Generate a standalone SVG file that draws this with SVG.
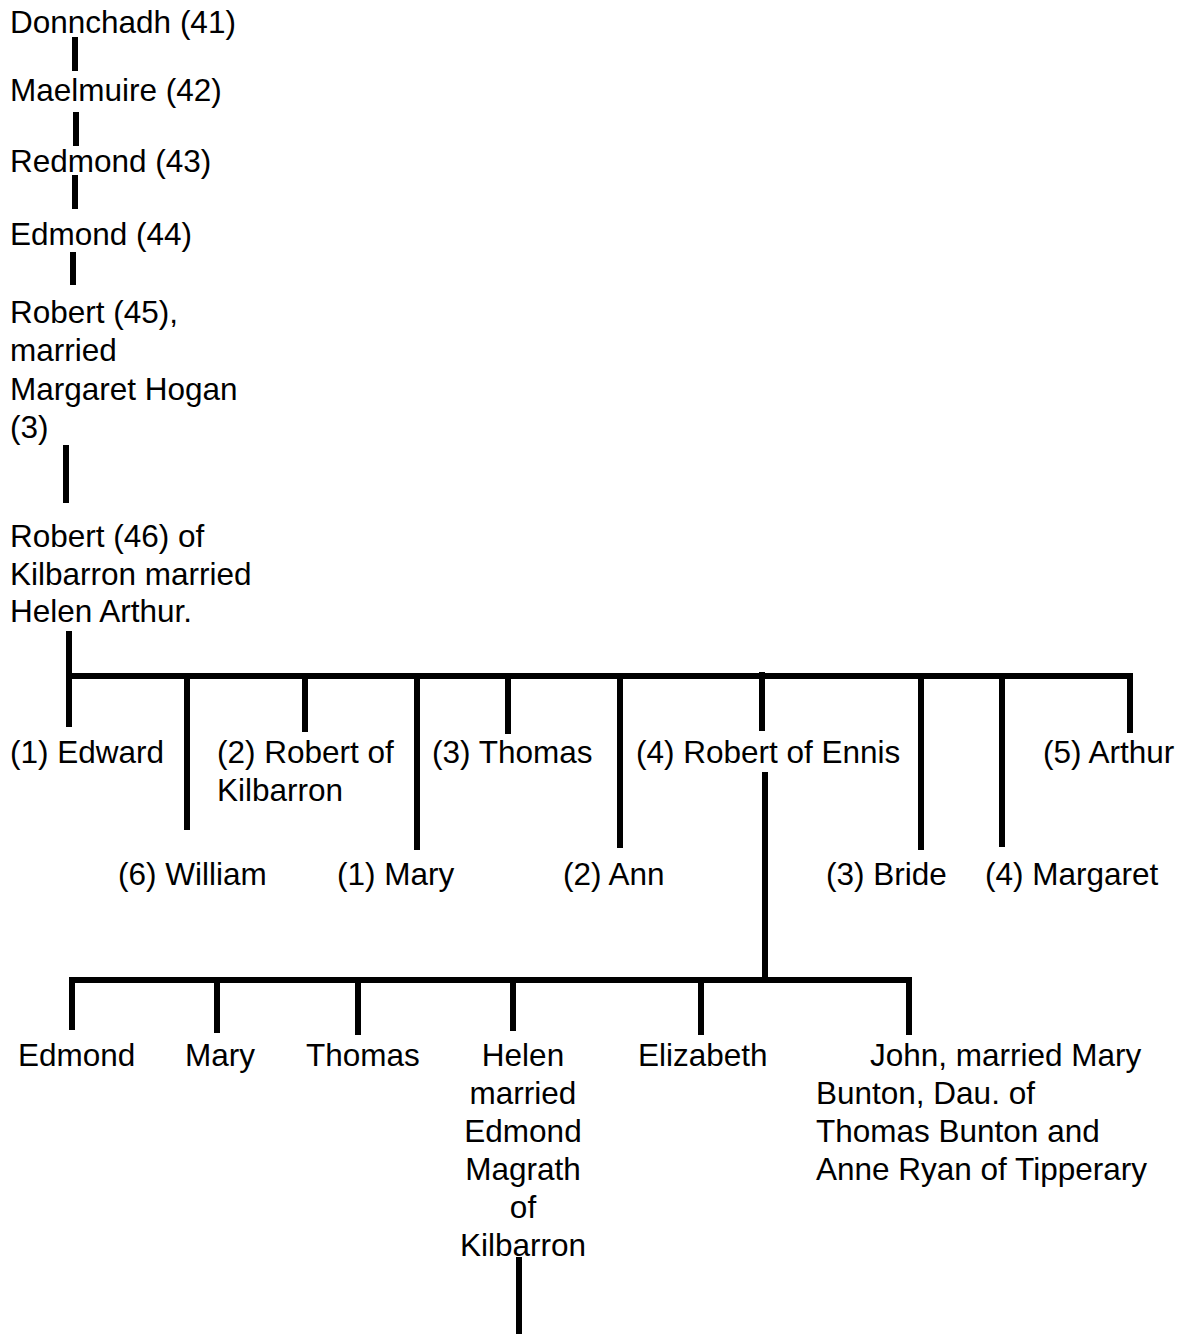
<svg xmlns="http://www.w3.org/2000/svg" width="1188" height="1334" viewBox="0 0 1188 1334">
<style>
text{font-family:"Liberation Sans",Arial,sans-serif;font-size:31.5px;fill:#000}
.c{text-anchor:middle}
#connectors line{stroke:#000;stroke-width:6;stroke-linecap:butt}
</style>
<rect width="1188" height="1334" fill="#fff"/>
<g id="connectors">
<line x1="75" y1="37" x2="75" y2="71"/>
<line x1="76" y1="112" x2="76" y2="146"/>
<line x1="75" y1="175" x2="75" y2="209"/>
<line x1="73" y1="252" x2="73" y2="285"/>
<line x1="66" y1="445" x2="66" y2="503"/>
<line x1="69" y1="631" x2="69" y2="727"/>
<line x1="66" y1="676" x2="1133" y2="676"/>
<line x1="187" y1="676" x2="187" y2="830"/>
<line x1="305" y1="676" x2="305" y2="732"/>
<line x1="417" y1="676" x2="417" y2="850"/>
<line x1="508" y1="676" x2="508" y2="734"/>
<line x1="620" y1="676" x2="620" y2="848"/>
<line x1="762" y1="672" x2="762" y2="731"/>
<line x1="921" y1="676" x2="921" y2="850"/>
<line x1="1002" y1="676" x2="1002" y2="847"/>
<line x1="1130" y1="676" x2="1130" y2="733"/>
<line x1="765" y1="772" x2="765" y2="983"/>
<line x1="69" y1="980" x2="912" y2="980"/>
<line x1="72" y1="980" x2="72" y2="1030"/>
<line x1="217" y1="980" x2="217" y2="1033"/>
<line x1="358" y1="980" x2="358" y2="1035"/>
<line x1="513" y1="980" x2="513" y2="1031"/>
<line x1="701" y1="980" x2="701" y2="1035"/>
<line x1="909" y1="980" x2="909" y2="1035"/>
<line x1="519" y1="1257" x2="519" y2="1334"/>
</g>
<g id="donnchadh"><text x="10" y="33">Donnchadh (41)</text></g>
<g id="maelmuire"><text x="10" y="101">Maelmuire (42)</text></g>
<g id="redmond"><text x="10" y="172">Redmond (43)</text></g>
<g id="edmond44"><text x="10" y="245">Edmond (44)</text></g>
<g id="robert45"><text x="10" y="323">Robert (45),</text><text x="10" y="361">married</text><text x="10" y="400">Margaret Hogan</text><text x="10" y="438">(3)</text></g>
<g id="robert46"><text x="10" y="547">Robert (46) of</text><text x="10" y="585">Kilbarron married</text><text x="10" y="622">Helen Arthur.</text></g>
<g id="edward"><text x="10" y="763">(1) Edward</text></g>
<g id="robert-kilbarron"><text x="217" y="763">(2) Robert of</text><text x="217" y="801">Kilbarron</text></g>
<g id="thomas3"><text x="432" y="763">(3) Thomas</text></g>
<g id="robert-ennis"><text x="636" y="763">(4) Robert of Ennis</text></g>
<g id="arthur"><text x="1043" y="763">(5) Arthur</text></g>
<g id="william"><text x="118" y="885">(6) William</text></g>
<g id="mary1"><text x="337" y="885">(1) Mary</text></g>
<g id="ann"><text x="563" y="885">(2) Ann</text></g>
<g id="bride"><text x="826" y="885">(3) Bride</text></g>
<g id="margaret"><text x="985" y="885">(4) Margaret</text></g>
<g id="edmond"><text x="18" y="1066">Edmond</text></g>
<g id="mary"><text x="185" y="1066">Mary</text></g>
<g id="thomas"><text x="306" y="1066">Thomas</text></g>
<g id="helen"><text class="c" x="523" y="1066">Helen</text><text class="c" x="523" y="1104">married</text><text class="c" x="523" y="1142">Edmond</text><text class="c" x="523" y="1180">Magrath</text><text class="c" x="523" y="1218">of</text><text class="c" x="523" y="1256">Kilbarron</text></g>
<g id="elizabeth"><text x="638" y="1066">Elizabeth</text></g>
<g id="john"><text x="870" y="1066">John, married Mary</text><text x="816" y="1104">Bunton, Dau. of</text><text x="816" y="1142">Thomas Bunton and</text><text x="816" y="1180">Anne Ryan of Tipperary</text></g>
</svg>
